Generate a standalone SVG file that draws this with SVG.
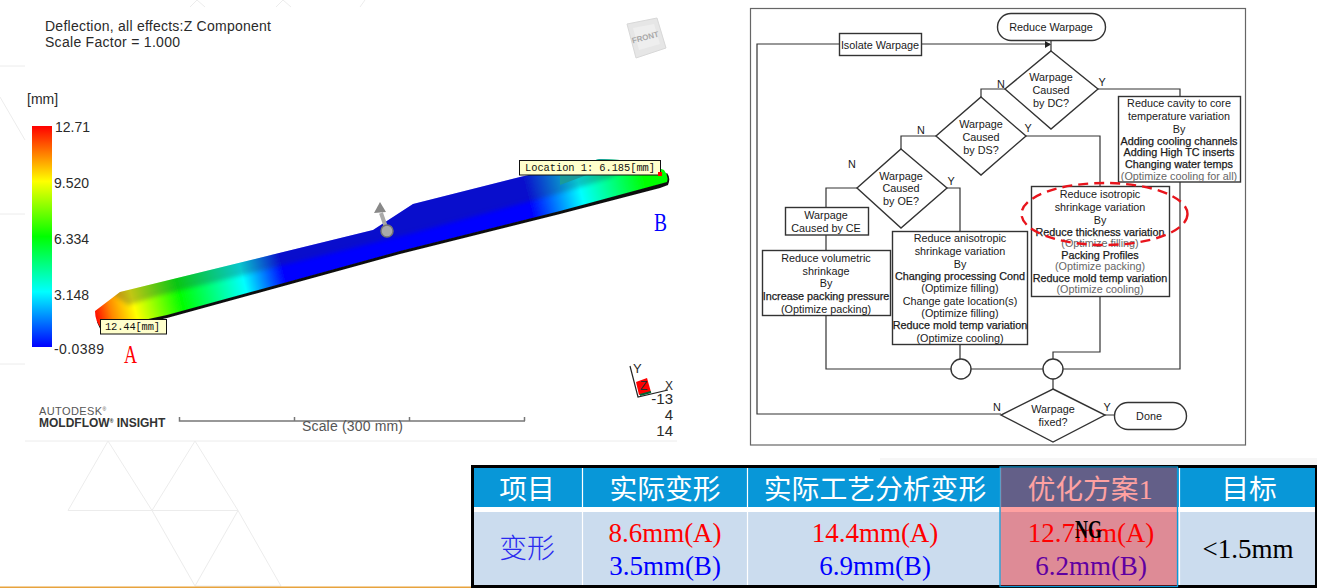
<svg xmlns="http://www.w3.org/2000/svg" width="1317" height="588" viewBox="0 0 1317 588">
<style>
.sim{font-family:"Liberation Sans",Arial,sans-serif;fill:#2a2a2a}
.sz14{font-size:14px}
.mono{font-family:"Liberation Mono",monospace;font-size:10.4px;fill:#111}
.fl{font-family:"Liberation Sans",Arial,sans-serif;font-size:10.8px;fill:#1a1a1a;text-anchor:middle}
.fb{stroke:#1a1a1a;stroke-width:.25}
.gr{fill:#666}
.box{fill:#fff;stroke:#333;stroke-width:1.4}
.cn{fill:none;stroke:#333;stroke-width:1.2}
.deco{fill:none;stroke:#ececec;stroke-width:1}
.th{font-family:"Noto Sans CJK SC",sans-serif;font-size:27.8px;fill:#fff;text-anchor:middle}
.td{font-family:"Liberation Serif","Times New Roman",serif;font-size:27px;text-anchor:middle}
.red{fill:#f00}
.blue{fill:#00f}
</style>
<defs>
<linearGradient id="legend" x1="0" y1="0" x2="0" y2="1">
<stop offset="0" stop-color="#f00"/><stop offset=".25" stop-color="#ff0"/><stop offset=".5" stop-color="#0f0"/><stop offset=".75" stop-color="#0ff"/><stop offset="1" stop-color="#00f"/>
</linearGradient>
<linearGradient id="bar" gradientUnits="userSpaceOnUse" x1="95" y1="320" x2="668" y2="175">
<stop offset="0" stop-color="#f00"/><stop offset=".03" stop-color="#f80"/><stop offset=".07" stop-color="#ff0"/><stop offset=".15" stop-color="#0f0"/><stop offset=".26" stop-color="#0ff"/><stop offset=".33" stop-color="#00f"/><stop offset=".76" stop-color="#00f"/><stop offset=".85" stop-color="#0ff"/><stop offset=".96" stop-color="#0f0"/><stop offset="1" stop-color="#0f0"/>
</linearGradient>
<filter id="soft" x="-5%" y="-5%" width="110%" height="110%"><feGaussianBlur stdDeviation=".7"/></filter>
<filter id="softer" x="-5%" y="-10%" width="110%" height="120%"><feGaussianBlur stdDeviation="2"/></filter>
<clipPath id="barclip"><path d="M95 311L120 292L373 230L413 204L520 177L600 159L640 161L664 170Q669 176 667 182L560 211L400 251L167 315L102 329Q95 322 95 311Z"/></clipPath>
</defs>

<rect width="1317" height="588" fill="#fff"/>
<g id="background">
<path class="deco" d="M0 66H25M0 214H25M0 364H25M0 97L25 140M190 7L197 0L205 7M276 7L283 0L291 7M360 7L365 0M25 441H677"/>
<path class="deco" d="M108 441L68 510.5H238L195 441L152 510.5L108 441M152 510.5L195 586H281L238 510.5L195 586"/>
<rect x="0" y="586.5" width="472" height="1.5" fill="#e8a33d"/>
<rect x="880" y="458" width="437" height="7" fill="#f6f6f6"/>
</g>

<g id="result-plot">
<text class="sim sz14" x="45" y="31" textLength="226">Deflection, all effects:Z Component</text>
<text class="sim sz14" x="45" y="47" textLength="135">Scale Factor = 1.000</text>
<g id="front-cube">
<polygon points="627,24 657,18 666,48 636,58" fill="#e6e6e6" stroke="#d8d8d8"/>
<polygon points="633,28 654,24 660,44 639,50" fill="#eeeeee"/>
<text transform="translate(646 40) rotate(-15)" text-anchor="middle" font-family="Liberation Sans, sans-serif" font-weight="bold" font-size="8" fill="#a8a8a8">FRONT</text>
</g>
<g id="legend-scale">
<text class="sim sz14" x="27" y="104">[mm]</text>
<rect x="32" y="126" width="20" height="221" fill="url(#legend)"/>
<text class="sim sz14" x="55" y="132">12.71</text>
<text class="sim sz14" x="54" y="188">9.520</text>
<text class="sim sz14" x="54" y="244">6.334</text>
<text class="sim sz14" x="54" y="300">3.148</text>
<text class="sim sz14" x="54" y="354" textLength="50">-0.0389</text>
</g>
<g id="part">
<g filter="url(#soft)">
<path d="M97 322L102 333L167 318L400 254L560 214L660 188L668 185Q671 178 667 173L660 178L400 247L100 318Z" fill="#111"/>
<path d="M95 311L120 292L373 230L413 204L520 177L600 159L640 161L664 170Q669 176 667 182L560 211L400 251L167 315L102 329Q95 322 95 311Z" fill="url(#bar)"/>
</g>
<g clip-path="url(#barclip)">
<path d="M100 285L373 225L413 198L520 170L600 150L650 155L610 178L560 193L413 233L373 243L157 296L128 305Z" fill="#203048" opacity=".28" filter="url(#softer)"/>
<path d="M560 150H640V170H600L560 185Z" fill="#1a9a9a"/>
</g>
<path d="M387 230L381 213" stroke="#aaa" stroke-width="4" fill="none"/>
<polygon points="380,202 386,212 374,213" fill="#888"/>
<circle cx="387" cy="231" r="6" fill="#aaa" stroke="#777" stroke-width="1.500"/>
</g>
<g id="label-location">
<rect x="519.500" y="160.500" width="141" height="14.500" fill="#ffc" stroke="#111"/>
<text class="mono" x="525" y="171" textLength="130">Location 1: 6.185[mm]</text>
<rect x="658" y="172" width="4" height="4" fill="#f00"/>
</g>
<g id="label-a">
<rect x="100.500" y="319.500" width="66" height="14.500" fill="#ffc" stroke="#111"/>
<text class="mono" x="105" y="330" textLength="55">12.44[mm]</text>
</g>
<text x="124" y="363" font-family="Liberation Serif, serif" font-size="26" textLength="13" lengthAdjust="spacingAndGlyphs" fill="#f00">A</text>
<text x="654" y="231" font-family="Liberation Serif, serif" font-size="26" textLength="13" lengthAdjust="spacingAndGlyphs" fill="#00f">B</text>
<g id="brand">
<text x="39" y="415" font-family="Liberation Sans, sans-serif" font-size="11" fill="#555" letter-spacing=".4">AUTODESK<tspan font-size="5" dy="-4">®</tspan></text>
<text x="39" y="427" font-family="Liberation Sans, sans-serif" font-size="12" font-weight="bold" fill="#333">MOLDFLOW<tspan font-size="5" dy="-4">®</tspan><tspan dy="4"> INSIGHT</tspan></text>
</g>
<g id="scale-bar">
<path d="M179.500 417V421H525M294.500 417V421M409.500 417V421M524.500 417V421" fill="none" stroke="#777" stroke-width="1.500"/>
<text class="sz14" font-family="Liberation Sans, sans-serif" fill="#555" x="302" y="431" textLength="101">Scale (300 mm)</text>
</g>
<g id="axes">
<polygon points="636,382 647,378 651,392 639,395" fill="#f00"/>
<path d="M640 395L651 392" stroke="#063" stroke-width="2"/>
<path d="M630 366L638 397L668 390" fill="none" stroke="#222" stroke-width="1.200"/>
<text x="633" y="373" class="sim" font-size="13">Y</text>
<text x="640" y="390" class="sim" font-size="12">Z</text>
<text x="665" y="390" class="sim" font-size="12">X</text>
<text x="673" y="404" class="sim" font-size="15" text-anchor="end">-13</text>
<text x="673" y="420" class="sim" font-size="15" text-anchor="end">4</text>
<text x="673" y="436" class="sim" font-size="15" text-anchor="end">14</text>
</g>
</g>

<rect id="flow-frame" x="750.500" y="8.500" width="495" height="436.500" fill="#fff" stroke="#666" stroke-width="1.200"/>

<g id="connectors">
<path class="cn" d="M921 44H1050M1051 40V51M839 44H757V414H1001"/>
<polygon points="1045,41 1051,44.500 1045,48" fill="#222"/>
<path class="cn" d="M1005 89H981V97M936 136H901V149M857 188H826V207M826 235V250M826 315V369H951M971 369H1043"/>
<path class="cn" d="M947 188H960V231M960 344V359M1026 136H1100V186M1100 296V352H1053V359M1098 89H1180V96M1180 182V369H1063M1053 379V389M1105 415H1114"/>
</g>

<g id="start"><rect class="box" x="997.500" y="13.500" width="108" height="27" rx="13.500"/><text class="fl" x="1051" y="31">Reduce Warpage</text></g>
<g id="isolate"><rect class="box" x="839.500" y="33.500" width="82" height="22"/><text class="fl" x="880" y="49">Isolate Warpage</text></g>
<g id="dc"><polygon class="box" points="1051,51 1098,89 1051,129 1005,89"/><text class="fl" x="1051" y="81">Warpage</text><text class="fl" x="1051" y="94">Caused</text><text class="fl" x="1051" y="107">by DC?</text></g>
<g id="ds"><polygon class="box" points="981,97 1026,136 981,175 936,136"/><text class="fl" x="981" y="128">Warpage</text><text class="fl" x="981" y="141">Caused</text><text class="fl" x="981" y="154">by DS?</text></g>
<g id="oe"><polygon class="box" points="901,149 947,188 901,228 857,188"/><text class="fl" x="901" y="180">Warpage</text><text class="fl" x="901" y="192">Caused</text><text class="fl" x="901" y="205">by OE?</text></g>
<g id="ce"><rect class="box" x="785.500" y="207.500" width="83" height="27.500"/><text class="fl" x="826" y="219">Warpage</text><text class="fl" x="826" y="232">Caused by CE</text></g>
<g id="vol"><rect class="box" x="762.500" y="250.500" width="128" height="65"/>
<text class="fl" x="826" y="262">Reduce volumetric</text><text class="fl" x="826" y="275">shrinkage</text><text class="fl" x="826" y="287">By</text><text class="fl fb" x="826" y="300">Increase packing pressure</text><text class="fl" x="826" y="313">(Optimize packing)</text></g>
<g id="aniso"><rect class="box" x="892.500" y="231.500" width="135" height="113"/>
<text class="fl" x="960" y="242">Reduce anisotropic</text><text class="fl" x="960" y="255">shrinkage variation</text><text class="fl" x="960" y="268">By</text><text class="fl fb" x="960" y="280">Changing processing Cond</text><text class="fl" x="960" y="292">(Optimize filling)</text><text class="fl" x="960" y="305">Change gate location(s)</text><text class="fl" x="960" y="317">(Optimize filling)</text><text class="fl fb" x="960" y="329">Reduce mold temp variation</text><text class="fl" x="960" y="342">(Optimize cooling)</text></g>
<g id="iso"><rect class="box" x="1031.500" y="186.500" width="138" height="110"/>
<text class="fl" x="1100" y="198">Reduce isotropic</text><text class="fl" x="1100" y="211">shrinkage variation</text><text class="fl" x="1100" y="224">By</text><text class="fl fb" x="1100" y="236">Reduce thickness variation</text><text class="fl gr" x="1100" y="247">(Optimize filling)</text><text class="fl fb" x="1100" y="259">Packing Profiles</text><text class="fl gr" x="1100" y="270">(Optimize packing)</text><text class="fl fb" x="1100" y="282">Reduce mold temp variation</text><text class="fl gr" x="1100" y="293">(Optimize cooling)</text></g>
<g id="cavity"><rect class="box" x="1118.500" y="96.500" width="122" height="85.500"/>
<text class="fl" x="1179" y="107">Reduce  cavity to core</text><text class="fl" x="1179" y="120">temperature variation</text><text class="fl" x="1179" y="133">By</text><text class="fl fb" x="1179" y="145">Adding cooling channels</text><text class="fl fb" x="1179" y="156">Adding High TC inserts</text><text class="fl fb" x="1179" y="168">Changing water temps</text><text class="fl gr" x="1179" y="180">(Optimize cooling for all)</text></g>
<g id="merge1"><circle class="box" cx="961" cy="369" r="10"/></g>
<g id="merge2"><circle class="box" cx="1053" cy="369" r="10"/></g>
<g id="fixed"><polygon class="box" points="1053,389 1105,415 1053,442 1001,415"/><text class="fl" x="1053" y="413">Warpage</text><text class="fl" x="1053" y="426">fixed?</text></g>
<g id="done"><rect class="box" x="1114.500" y="402.500" width="72" height="27" rx="13.500"/><text class="fl" x="1149" y="420">Done</text></g>

<g id="branch-labels">
<text class="fl" x="1001" y="88">N</text><text class="fl" x="1102" y="86">Y</text>
<text class="fl" x="921" y="134">N</text><text class="fl" x="1028" y="132">Y</text>
<text class="fl" x="852" y="168">N</text><text class="fl" x="951" y="185">Y</text>
<text class="fl" x="997" y="411">N</text><text class="fl" x="1107" y="411">Y</text>
</g>
<ellipse id="highlight" cx="1104.500" cy="214" rx="83" ry="31" fill="none" stroke="#e8141c" stroke-width="2.400" stroke-dasharray="10 6"/>

<g id="table">
<rect x="471" y="465" width="846" height="123" fill="#000"/>
<rect x="474" y="468" width="841" height="39" fill="#0897d8"/>
<rect x="474" y="507" width="841" height="5" fill="#fff"/>
<rect x="474" y="512" width="841" height="73" fill="#cbdcee"/>
<path d="M582.500 468V585M747.500 468V585M1000.500 468V585M1179.500 468V585" stroke="#fff" stroke-width="1.200"/>
<text class="th" x="527" y="499">项目</text>
<text class="th" x="665" y="499">实际变形</text>
<text class="th" x="875" y="499">实际工艺分析变形</text>
<text class="th" x="1090" y="499">优化方案<tspan font-family="Liberation Serif, serif">1</tspan></text>
<text class="th" x="1249" y="499">目标</text>
<text class="th" style="fill:#2a2af0;font-weight:300" x="527" y="558">变形</text>
<text class="td red" x="665" y="542">8.6mm(A)</text>
<text class="td blue" x="665" y="575">3.5mm(B)</text>
<text class="td red" x="875" y="542">14.4mm(A)</text>
<text class="td blue" x="875" y="575">6.9mm(B)</text>
<text class="td red" x="1091" y="542">12.7mm(A)</text>
<text class="td blue" x="1091" y="575">6.2mm(B)</text>
<text class="td" fill="#000" x="1248" y="558">&lt;1.5mm</text>
<rect x="1000" y="467" width="177.500" height="119.500" fill="#f00" fill-opacity=".37" stroke="#0a9ad8" stroke-width="1.300"/>
<text x="1075" y="538" font-family="Liberation Serif, serif" font-weight="bold" font-size="25" textLength="27" lengthAdjust="spacingAndGlyphs" fill="#000">NG</text>
</g>
</svg>
